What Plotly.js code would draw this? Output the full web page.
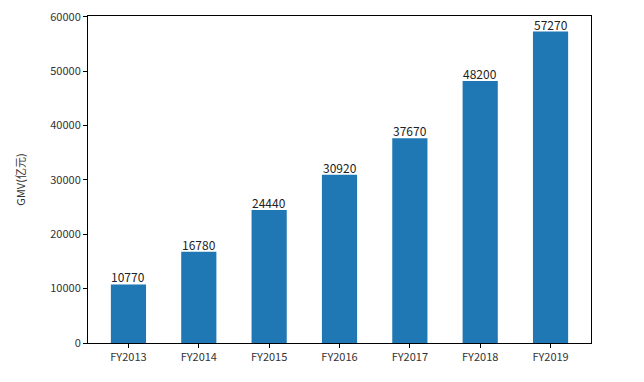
<!DOCTYPE html>
<html><head><meta charset="utf-8">
<script src="https://cdn.plot.ly/plotly-3.0.1.min.js"></script>
<style>html,body{margin:0;padding:0;background:#fff;}#c{width:644px;height:382px;}</style>
</head><body><div id="c"></div>
<script>
var categories = ["FY2013","FY2014","FY2015","FY2016","FY2017","FY2018","FY2019"];
var gmv = [10770,16780,24440,30920,37670,48200,57270];
var yTicks = [0,10000,20000,30000,40000,50000,60000];
var fontFam = "'Noto Sans CJK SC', 'DejaVu Sans', sans-serif";
var xs = categories.map(function(_, i){ return i; });
var trace = {
  type:'bar', x:xs, y:gmv, width:0.5,
  marker:{color:'#1f77b4'},
  hoverinfo:'none'
};
var annotations = xs.map(function(x, i){
  return {x:x, y:gmv[i], xref:'x', yref:'y', text:String(gmv[i]), showarrow:false,
    xanchor:'center', yanchor:'bottom', yshift:-3,
    font:{family:fontFam, size:12, color:'#222'}};
});
var layout = {
  width:644, height:382,
  margin:{l:88, r:53, t:16, b:39},
  paper_bgcolor:'#fff', plot_bgcolor:'#fff',
  showlegend:false,
  font:{family:fontFam, size:11, color:'#333'},
  annotations: annotations,
  xaxis:{range:[-0.575,6.575], tickvals:xs, ticktext:categories,
    showline:true, mirror:true, linecolor:'#000', linewidth:1, ticks:'outside', ticklen:4, tickcolor:'#000',
    showgrid:false, zeroline:false, tickfont:{size:11, color:'#333'}},
  yaxis:{range:[0,60133], tickvals:yTicks, ticktext:yTicks.map(String),
    showline:true, mirror:true, linecolor:'#000', linewidth:1, ticks:'outside', ticklen:4, tickcolor:'#000',
    showgrid:false, zeroline:false, tickfont:{size:11, color:'#333'},
    title:{text:'GMV(亿元)', font:{size:11, color:'#333'}, standoff:22}}
};
Plotly.newPlot('c',[trace],layout,{displayModeBar:false, staticPlot:true});
</script></body></html>
